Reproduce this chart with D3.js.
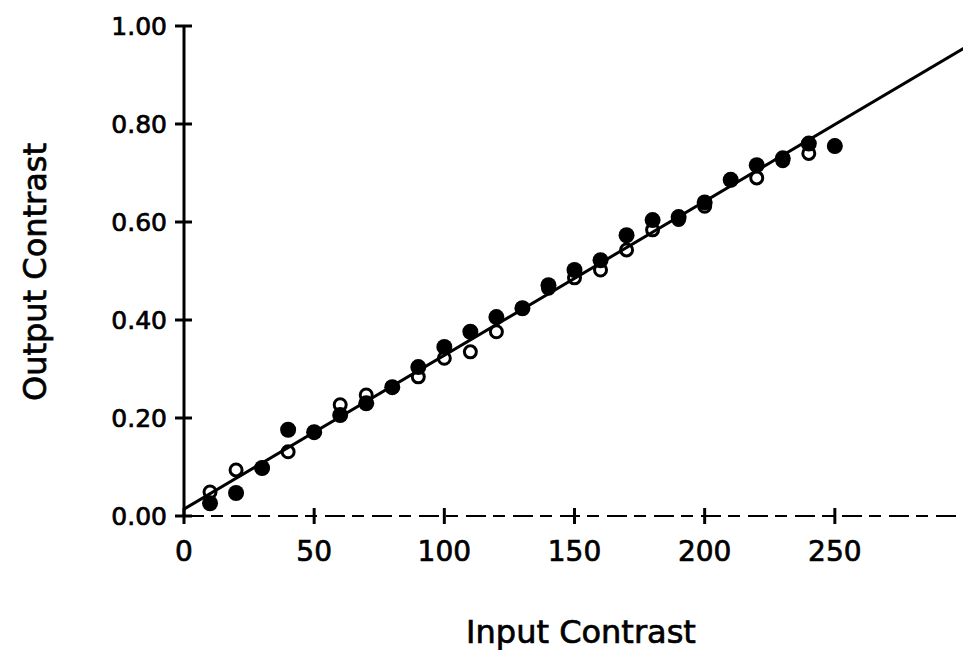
<!DOCTYPE html>
<html lang="en">
<head>
    <meta charset="UTF-8">
    <script src="https://cdn.jsdelivr.net/npm/d3@7"></script>
    <title>Output vs Input Contrast</title>
    <style>
        html, body { margin: 0; padding: 0; background: #fff; }
        svg { display: block; font-family: "DejaVu Sans", sans-serif; }
        text { stroke: #000; stroke-width: 0.7px; }
    </style>
</head>
<body>
    <div id="chart"></div>
    <script>
        // input contrast levels
        let inputs = [10, 20, 30, 40, 50, 60, 70, 80, 90, 100, 110, 120, 130,
                      140, 150, 160, 170, 180, 190, 200, 210, 220, 230, 240, 250];
        // filled circles
        let filled = [0.026, 0.047, 0.098, 0.176, 0.171, 0.206, 0.23, 0.263, 0.304, 0.345, 0.376, 0.406, 0.424,
                      0.471, 0.502, 0.522, 0.573, 0.604, 0.61, 0.64, 0.686, 0.716, 0.73, 0.76, 0.755];
        // open circles
        let open = [0.049, 0.094, 0.098, 0.131, 0.171, 0.227, 0.247, 0.263, 0.284, 0.322, 0.335, 0.376, 0.424,
                    0.465, 0.486, 0.502, 0.543, 0.584, 0.605, 0.632, 0.686, 0.69, 0.725, 0.74, 0.755];
        // fitted line
        let fitIntercept = 0.014;
        let fitSlope = 0.00314;

        let xTicks = [0, 50, 100, 150, 200, 250];
        let yTicks = [0, 0.2, 0.4, 0.6, 0.8, 1.0];

        let width = 963, height = 650;
        let svg = d3.select('#chart').append('svg').attr('width', width).attr('height', height);

        let x = d3.scaleLinear().domain([0, 300]).range([184, 965]);
        let y = d3.scaleLinear().domain([0, 1]).range([516, 26]);

        // x axis: broken dashed baseline
        svg.append('line')
            .attr('x1', x(0)).attr('x2', width)
            .attr('y1', y(0)).attr('y2', y(0))
            .attr('stroke', '#000').attr('stroke-width', 2)
            .attr('stroke-dasharray', '20,7,12,8');

        svg.selectAll('.xtick')
            .data(xTicks)
            .join('line')
            .attr('class', 'xtick')
            .attr('x1', d => x(d)).attr('x2', d => x(d))
            .attr('y1', y(0) - 8).attr('y2', y(0) + 8)
            .attr('stroke', '#000').attr('stroke-width', 3);

        svg.selectAll('.xlabel')
            .data(xTicks)
            .join('text')
            .attr('class', 'xlabel')
            .attr('x', d => x(d))
            .attr('y', 561)
            .attr('text-anchor', 'middle')
            .attr('font-size', 28)
            .text(d => d);

        // y axis
        svg.append('line')
            .attr('x1', x(0)).attr('x2', x(0))
            .attr('y1', y(0)).attr('y2', y(1))
            .attr('stroke', '#000').attr('stroke-width', 3);

        svg.selectAll('.ytick')
            .data(yTicks)
            .join('line')
            .attr('class', 'ytick')
            .attr('x1', x(0) - 9).attr('x2', x(0) + 8)
            .attr('y1', d => y(d)).attr('y2', d => y(d))
            .attr('stroke', '#000').attr('stroke-width', 3);

        svg.selectAll('.ylabel')
            .data(yTicks)
            .join('text')
            .attr('class', 'ylabel')
            .attr('x', 167)
            .attr('y', d => y(d) + 9)
            .attr('text-anchor', 'end')
            .attr('font-size', 25)
            .text(d => d.toFixed(2));

        // points
        let pts = inputs.map((v, i) => ({ x: v, f: filled[i], o: open[i] }));

        svg.selectAll('.open')
            .data(pts)
            .join('circle')
            .attr('class', 'open')
            .attr('cx', d => x(d.x))
            .attr('cy', d => y(d.o))
            .attr('r', 6)
            .attr('fill', '#fff')
            .attr('stroke', '#000')
            .attr('stroke-width', 3);

        svg.selectAll('.filled')
            .data(pts)
            .join('circle')
            .attr('class', 'filled')
            .attr('cx', d => x(d.x))
            .attr('cy', d => y(d.f))
            .attr('r', 8)
            .attr('fill', '#000');

        // regression line
        svg.append('line')
            .attr('x1', x(0)).attr('y1', y(fitIntercept))
            .attr('x2', x(300)).attr('y2', y(fitIntercept + fitSlope * 300))
            .attr('stroke', '#000').attr('stroke-width', 3);

        // axis titles
        svg.append('text')
            .attr('x', 581).attr('y', 643)
            .attr('text-anchor', 'middle')
            .attr('font-size', 32)
            .text('Input Contrast');

        svg.append('text')
            .attr('transform', 'translate(46,272) rotate(-90)')
            .attr('text-anchor', 'middle')
            .attr('font-size', 32)
            .text('Output Contrast');
    </script>
</body>
</html>
